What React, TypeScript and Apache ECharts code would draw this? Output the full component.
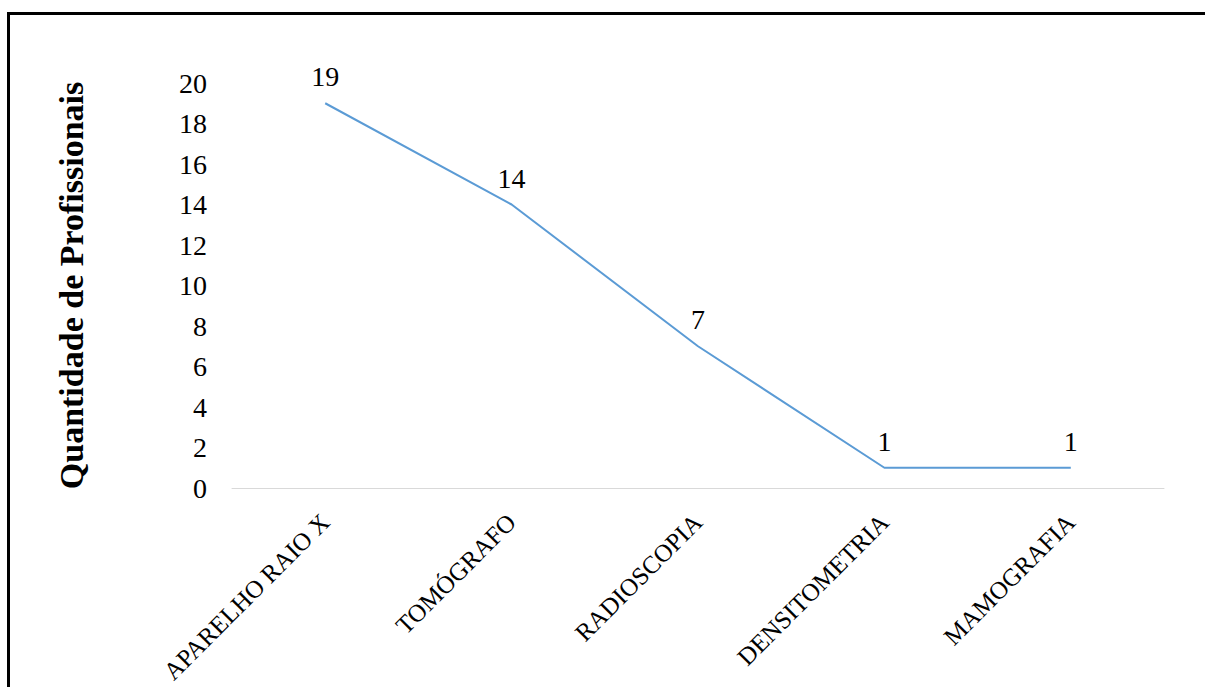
import React, { useEffect, useRef } from "react";
import * as echarts from "echarts";

// Equipment types and number of professionals per type
const categories = [
  "APARELHO RAIO X",
  "TOMÓGRAFO",
  "RADIOSCOPIA",
  "DENSITOMETRIA",
  "MAMOGRAFIA",
];
const profissionais = [19, 14, 7, 1, 1];
const yTitle = "Quantidade de Profissionais";

const SERIF = "'Liberation Serif', 'Times New Roman', serif";

export default function App() {
  const ref = useRef<HTMLDivElement>(null);

  useEffect(() => {
    if (!ref.current) return;
    const chart = echarts.init(ref.current, undefined, { renderer: "svg" });
    chart.setOption({
      animation: false,
      backgroundColor: "#ffffff",
      textStyle: { fontFamily: SERIF },
      graphic: [
        {
          type: "line",
          shape: { x1: 8.5, y1: 13.5, x2: 1205, y2: 13.5 },
          style: { stroke: "#000000", lineWidth: 3 },
        },
        {
          type: "line",
          shape: { x1: 8.5, y1: 12, x2: 8.5, y2: 687 },
          style: { stroke: "#000000", lineWidth: 3 },
        },
      ],
      grid: { left: 232, right: 41, top: 83, bottom: 199 },
      xAxis: {
        type: "category",
        data: categories,
        boundaryGap: true,
        axisLine: { show: true, lineStyle: { color: "#d9d9d9", width: 1 } },
        axisTick: { show: false },
        splitLine: { show: false },
        axisLabel: {
          rotate: 45,
          margin: 30,
          fontSize: 25,
          color: "#000000",
          fontFamily: SERIF,
        },
      },
      yAxis: {
        type: "value",
        min: 0,
        max: 20,
        interval: 2,
        name: yTitle,
        nameLocation: "middle",
        nameRotate: 90,
        nameGap: 144,
        nameTextStyle: {
          fontSize: 34,
          fontWeight: "bold",
          color: "#000000",
          fontFamily: SERIF,
        },
        axisLine: { show: false },
        axisTick: { show: false },
        splitLine: { show: false },
        axisLabel: {
          margin: 25,
          fontSize: 28,
          color: "#000000",
          fontFamily: SERIF,
        },
      },
      series: [
        {
          type: "line",
          data: profissionais,
          symbol: "circle",
          symbolSize: 1,
          showSymbol: true,
          itemStyle: { color: "rgba(0,0,0,0)" },
          lineStyle: { color: "#5b9bd5", width: 2 },
          label: {
            show: true,
            position: "top",
            distance: 12,
            fontSize: 28,
            color: "#000000",
            fontFamily: SERIF,
          },
        },
      ],
    });
    return () => chart.dispose();
  }, []);

  return (
    <div
      ref={ref}
      style={{
        position: "absolute",
        left: 0,
        top: 0,
        width: 1205,
        height: 687,
        background: "#ffffff",
      }}
    />
  );
}
